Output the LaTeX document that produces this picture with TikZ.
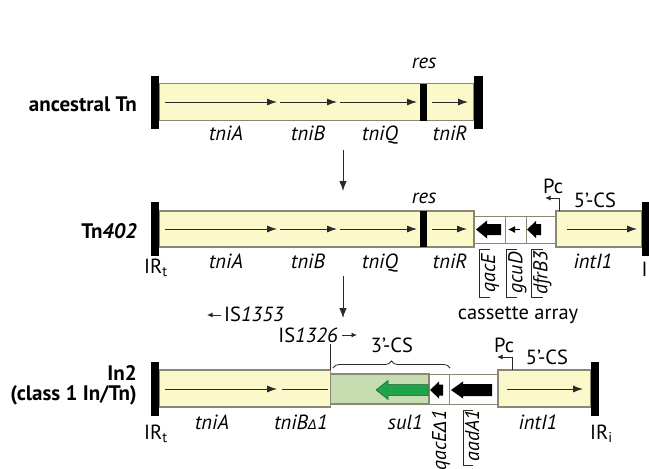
\documentclass[tikz,border=0pt]{standalone}
\usepackage{fontspec}
\setmainfont{PT Sans}
\newfontfamily\symfnt{DejaVu Sans}
\usetikzlibrary{arrows.meta,decorations.pathreplacing}
\definecolor{tnyellow}{HTML}{FBF8C9}
\definecolor{tnedge}{HTML}{8A8874}
\definecolor{csgreen}{HTML}{C5DDB0}
\definecolor{sulgreen}{HTML}{20A34A}
\definecolor{linegray}{HTML}{2A2A2A}
\newcommand\blkarrow[7]{%
  \path[#7] (#1,#3) -- (#1+#4,#3-#5) -- (#1+#4,#3-#6) -- (#2,#3-#6) -- (#2,#3+#6) -- (#1+#4,#3+#6) -- (#1+#4,#3+#5) -- cycle;}
\newcommand\dlt{{\symfnt\fontsize{13}{12}\selectfont Δ}}
\begin{document}
\begin{tikzpicture}[x=1pt,y=-1pt,
  lab/.style={font=\fontsize{20.5}{21}\selectfont\itshape, inner sep=0pt, anchor=base},
  upl/.style={font=\fontsize{20.5}{21}\selectfont, inner sep=0pt, anchor=base},
  rowlab/.style={font=\fontsize{21}{22}\selectfont\bfseries, inner sep=0pt, anchor=base east},
  seg/.style={fill=tnyellow, draw=tnedge, line width=1.3pt},
  cas/.style={fill=white, draw=tnedge, line width=1pt},
  grn/.style={fill=csgreen, draw=tnedge, line width=1.3pt},
  endbar/.style={fill=black},
  gene/.style={draw=linegray, line width=0.9pt, -{Latex[length=10pt,width=7pt]}},
  plain/.style={draw=linegray, line width=0.9pt},
  prom/.style={draw=linegray, line width=0.8pt, -{Latex[length=5.5pt,width=5pt]}},
  flow/.style={draw=linegray, line width=0.9pt, -{Latex[length=10pt,width=7.5pt]}},
  brk/.style={draw=linegray, line width=0.8pt},
  rot/.style={font=\fontsize{20}{21}\selectfont\itshape, inner sep=0pt, rotate=90}
]
\useasboundingbox (0,0) rectangle (649,469);

% ---------- row 1: ancestral Tn ----------
\node[rowlab] (r1) at (137,111) {ancestral Tn};
\draw[seg] (159,83.5) rectangle (474,120.5);
\fill[endbar] (151,76) rectangle (159,129);
\fill[endbar] (420,83.5) rectangle (427,120.5);
\fill[endbar] (474,76) rectangle (483,129);
\coordinate (g1a) at (165,102); \coordinate (g1b) at (277,102);
\coordinate (g1c) at (280,102); \coordinate (g1d) at (337,102);
\coordinate (g1e) at (340,102); \coordinate (g1f) at (417,102);
\coordinate (g1g) at (432,102); \coordinate (g1h) at (468,102);
\draw[gene] (g1a) -- (g1b);
\draw[gene] (g1c) -- (g1d);
\draw[gene] (g1e) -- (g1f);
\draw[gene] (g1g) -- (g1h);
\node[lab] (l1a) at (226,140) {tniA};
\node[lab] (l1b) at (308,140) {tniB};
\node[lab] (l1q) at (380,140) {tniQ};
\node[lab] (l1r) at (450,140) {tniR};
\node[lab] (l1s) at (424,68) {res};

% arrow 1
\coordinate (v1s) at (343,150); \coordinate (v1e) at (343,191);
\draw[flow] (v1s) -- (v1e);

% ---------- row 2: Tn402 ----------
\node[rowlab] (r2) at (137,238) {Tn\textit{402}};
\draw[seg] (159,211) rectangle (474,247);
\fill[endbar] (151,202) rectangle (159,256);
\fill[endbar] (420,211) rectangle (427,247);
\draw[cas] (474,216) rectangle (556,243);
\draw[cas] (505,216) -- (505,243);
\draw[cas] (526,216) -- (526,243);
\draw[seg] (556,211) rectangle (642,247);
\fill[endbar] (642,202) rectangle (652,256);
\coordinate (g2a) at (165,229); \coordinate (g2b) at (277,229);
\coordinate (g2c) at (280,229); \coordinate (g2d) at (337,229);
\coordinate (g2e) at (340,229); \coordinate (g2f) at (417,229);
\coordinate (g2g) at (432,229); \coordinate (g2h) at (467,229);
\coordinate (g2i) at (567,229); \coordinate (g2j) at (637,229);
\draw[gene] (g2a) -- (g2b);
\draw[gene] (g2c) -- (g2d);
\draw[gene] (g2e) -- (g2f);
\draw[gene] (g2g) -- (g2h);
\draw[gene] (g2i) -- (g2j);
\blkarrow{476}{501}{229.5}{11}{9}{5.5}{fill=black}
\coordinate (gcs) at (520,229.5); \coordinate (gce) at (508,229.5);
\draw[draw=black, line width=0.9pt, -{Latex[length=7pt,width=7pt]}] (gcs) -- (gce);
\blkarrow{527}{541}{229.5}{9}{8.5}{5.5}{fill=black}
\coordinate (p2a) at (559,211); \coordinate (p2b) at (559,198); \coordinate (p2c) at (545,198);
\draw[prom] (p2a) -- (p2b) -- (p2c);
\node[upl] (pc2) at (553,193) {Pc};
\node[upl] (cs5a) at (595,207) {5’-CS};
\node[lab] (l2a) at (226,268) {tniA};
\node[lab] (l2b) at (308,268) {tniB};
\node[lab] (l2q) at (380,268) {tniQ};
\node[lab] (l2r) at (450,268) {tniR};
\node[lab] (l2s) at (424,203) {res};
\node[lab] (l2i) at (593,268) {intI1};
\node[upl] (ir2t) at (156,273) {IR\textsubscript{t}};
\node[upl, anchor=base west] (ir2i) at (641.5,276) {IR\textsubscript{i}};
% cassette labels
\node[rot, anchor=north] (cq) at (481,273) {qacE};
\node[rot, anchor=north] (cg) at (508,273) {gcuD};
\node[rot, anchor=north] (cd) at (533,273) {dfrB3};
\draw[brk] (490,249) -- (479,249) -- (479,297) -- (490,297);
\draw[brk] (517,249) -- (506,249) -- (506,297) -- (517,297);
\draw[brk] (543,249) -- (531,249) -- (531,297) -- (543,297);
\node[upl] (casl) at (518,319) {cassette array};

% arrow 2
\coordinate (v2s) at (343,276); \coordinate (v2e) at (343,318);
\draw[flow] (v2s) -- (v2e);

% ---------- row 3: In2 ----------
\node[rowlab] (r3a) at (137,380) {In2};
\node[rowlab] (r3b) at (137,400) {(class 1 In/Tn)};
\coordinate (is3a) at (221,315); \coordinate (is3b) at (207,315);
\draw[prom] (is3a) -- (is3b);
\node[upl, anchor=base west] (is53) at (224,321) {IS\textit{1353}};
\node[upl, anchor=base east] (is26) at (338,342) {IS\textit{1326}};
\coordinate (is2a) at (342,335); \coordinate (is2b) at (357,335);
\draw[prom] (is2a) -- (is2b);
\draw[seg] (159,370) rectangle (330.5,407);
\draw[grn] (330.5,374) rectangle (429,404);
\draw[cas] (429,374) rectangle (449,404);
\draw[cas] (449,374) rectangle (498,404);
\draw[seg] (498,370) rectangle (591,407);
\fill[endbar] (151,362) rectangle (159,416);
\fill[endbar] (591,362) rectangle (599,416);
\coordinate (isl1) at (330.5,344); \coordinate (isl2) at (330.5,370);
\draw[plain, line width=0.8pt] (isl1) -- (isl2);
\coordinate (g3a) at (165,389); \coordinate (g3b) at (277,389);
\coordinate (g3c) at (282,389); \coordinate (g3d) at (328,389);
\coordinate (g3i) at (507,389); \coordinate (g3j) at (583,389);
\draw[gene] (g3a) -- (g3b);
\draw[plain] (g3c) -- (g3d);
\draw[gene] (g3i) -- (g3j);
\blkarrow{376}{428}{390}{12}{9.5}{5.5}{fill=sulgreen, draw=sulgreen!60!black, line width=0.5pt}
\blkarrow{430}{443}{390}{9}{8.5}{5.5}{fill=black}
\blkarrow{451}{492}{390}{12}{8.5}{6}{fill=black}
\coordinate (b1) at (333,368); \coordinate (b2) at (450,368);
\draw[brk, decorate, decoration={brace, amplitude=7pt}] (b1) -- (b2);
\node[upl] (cs3) at (392,352) {3’-CS};
\coordinate (p3a) at (512,370); \coordinate (p3b) at (512,357); \coordinate (p3c) at (497,357);
\draw[prom] (p3a) -- (p3b) -- (p3c);
\node[upl] (pc3) at (504,352) {Pc};
\node[upl] (cs5b) at (547,364) {5’-CS};
\node[lab] (l3a) at (212,429) {tniA};
\node[lab] (l3b) at (301,429) {tniB\dlt\textit{1}};
\node[lab, anchor=base east] (l3s) at (423,429) {sul1};
\node[lab] (l3i) at (538,429) {intI1};
\node[upl] (ir3t) at (156,439) {IR\textsubscript{t}};
\node[upl, anchor=base west] (ir3i) at (590,439) {IR\textsubscript{i}};
\node[rot, anchor=east] (cq3) at (441,410) {qacE{\symfnt\fontsize{17}{18}\selectfont Δ}1};
\node[rot, anchor=east] (ca3) at (472,410) {aadA1};
\draw[brk] (473,410) -- (463.5,410) -- (463.5,465) -- (473,465);
\end{tikzpicture}
\end{document}
